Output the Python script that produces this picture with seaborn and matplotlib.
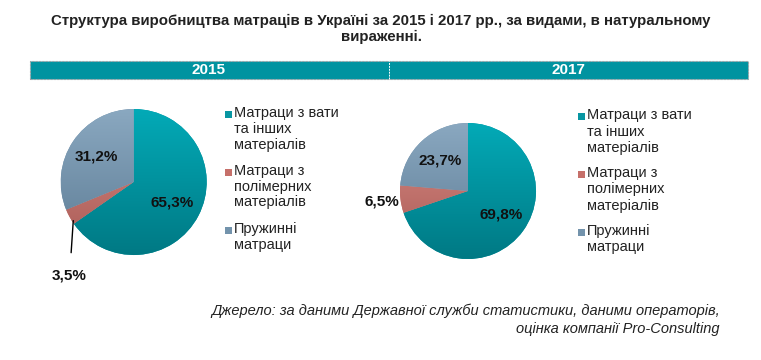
import matplotlib
matplotlib.use("Agg")
import matplotlib.pyplot as plt
import numpy as np
import seaborn as sns
from matplotlib.colors import LinearSegmentedColormap
from matplotlib.patches import Rectangle, Patch

years = ["2015", "2017"]
categories = ["Матраци з вати\nта інших\nматеріалів",
              "Матраци з\nполімерних\nматеріалів",
              "Пружинні\nматраци"]
shares_2015 = [65.3, 3.5, 31.2]
shares_2017 = [69.8, 6.5, 23.7]
title = ("Структура виробництва матраців в Україні за 2015 і 2017 рр., за видами, в натуральному\n"
         "вираженні.")
source = ("Джерело: за даними Державної служби статистики, даними операторів,\n"
          "оцінка компанії Pro-Consulting")

sns.set_theme(style="white")
plt.rcParams['font.family'] = ['Liberation Sans', 'DejaVu Sans']

palette = ["#0896A2", "#C6706A", "#7393AC"]
light = ["#03AAB7", "#D98A84", "#8AA8C0"]
dark = ["#007984", "#A85A55", "#5C7B94"]

W, H = 761, 360
fig = plt.figure(figsize=(W / 100, H / 100), dpi=100)


def px_axes(x, y, w, h):
    return fig.add_axes([x / W, 1 - (y + h) / H, w / W, h / H])


def fmt(v):
    return f"{v:.1f}%".replace(".", ",")


fig.text(381 / W, 1 - 29 / H, title, ha="center", va="center", fontsize=10.8,
         fontweight="bold", color="#222222", linespacing=1.12)

# header band
band_y, band_h = 61, 18
fig.patches.append(Rectangle((30 / W, 1 - (band_y + band_h) / H), 718 / W, band_h / H,
                             transform=fig.transFigure, facecolor="#0093A0",
                             edgecolor="#9AA5A8", linestyle=(0, (2, 1)), linewidth=0.8))
fig.lines.append(plt.Line2D([389 / W, 389 / W], [1 - (band_y + band_h) / H, 1 - band_y / H],
                            transform=fig.transFigure, color="white", linewidth=0.7,
                            linestyle=(0, (2, 1))))
for yr, cx in zip(years, [209, 568]):
    fig.text(cx / W, 1 - (band_y + band_h / 2 + 0.5) / H, yr, ha="center", va="center",
             fontsize=11, fontweight="bold", color="white")


def draw_pie(ax, values, label_pos):
    wedges, _ = ax.pie(values, colors=palette, startangle=90, counterclock=False,
                       radius=1, wedgeprops=dict(linewidth=0))
    grad = np.linspace(0, 1, 256).reshape(-1, 1)
    for i, w in enumerate(wedges):
        cmap = LinearSegmentedColormap.from_list("g", [light[i], dark[i]])
        im = ax.imshow(grad, extent=[-1, 1, -1, 1], cmap=cmap, origin="upper",
                       aspect="auto", zorder=2)
        im.set_clip_path(w)
    for i, w in enumerate(wedges):
        th = np.deg2rad((w.theta1 + w.theta2) / 2)
        kind, r = label_pos[i]
        if kind == "leader":
            x0, y0 = np.cos(th), np.sin(th)
            ax.annotate(fmt(values[i]), xy=(x0 + 0.05, y0 - 0.05), xytext=(x0, -1.28),
                        ha="center", va="center", fontsize=11, fontweight="bold",
                        color="#111111", annotation_clip=False,
                        arrowprops=dict(arrowstyle="-", color="black", lw=1,
                                        shrinkA=9, shrinkB=0), zorder=5)
        else:
            ax.text(r * np.cos(th), r * np.sin(th), fmt(values[i]), ha="center",
                    va="center", fontsize=11, fontweight="bold", color="#111111", zorder=5)
    ax.set_xlim(-1, 1)
    ax.set_ylim(-1, 1)
    ax.set_aspect("auto")
    ax.axis("off")


ax1 = px_axes(60.7, 109, 146, 146)
draw_pie(ax1, shares_2015, [("in", 0.6), ("leader", 0), ("in", 0.62)])
ax2 = px_axes(400, 123, 136, 136)
draw_pie(ax2, shares_2017, [("in", 0.6), ("out", 1.27), ("in", 0.6)])

# legends: text via fig.legend, square markers put next to the first line of each label
blank = [Patch(facecolor="none", edgecolor="none") for _ in palette]
legends = []
for lx, ly, sp, ls in [(219.5, 106, 0.85, 1.16), (572.5, 108, 0.72, 1.24)]:
    leg = fig.legend(blank, categories, loc="upper left",
                     bbox_to_anchor=(lx / W, 1 - ly / H), frameon=False,
                     fontsize=10.5, handlelength=0.7, handleheight=0.6,
                     handletextpad=0.3, labelspacing=sp, borderaxespad=0,
                     borderpad=0)
    for t in leg.get_texts():
        t.set_color("#222222")
        t.set_linespacing(ls)
    legends.append(leg)

fig.text(720 / W, 1 - 320 / H, source, ha="right", va="center", fontsize=10.5,
         style="italic", color="#222222", multialignment="right", linespacing=1.4)

fig.canvas.draw()
renderer = fig.canvas.get_renderer()
sq = 7
for leg in legends:
    for t, c in zip(leg.get_texts(), palette):
        bb = t.get_window_extent(renderer)
        n = t.get_text().count("\n") + 1
        lh = bb.height / n
        cy = bb.y1 - lh / 2 - 1
        x1 = bb.x0 - 2
        fig.patches.append(Rectangle(((x1 - sq) / W, (cy - sq / 2) / H), sq / W, sq / H,
                                     transform=fig.transFigure, facecolor=c,
                                     edgecolor="none"))

fig.savefig("out.png", dpi=100)
